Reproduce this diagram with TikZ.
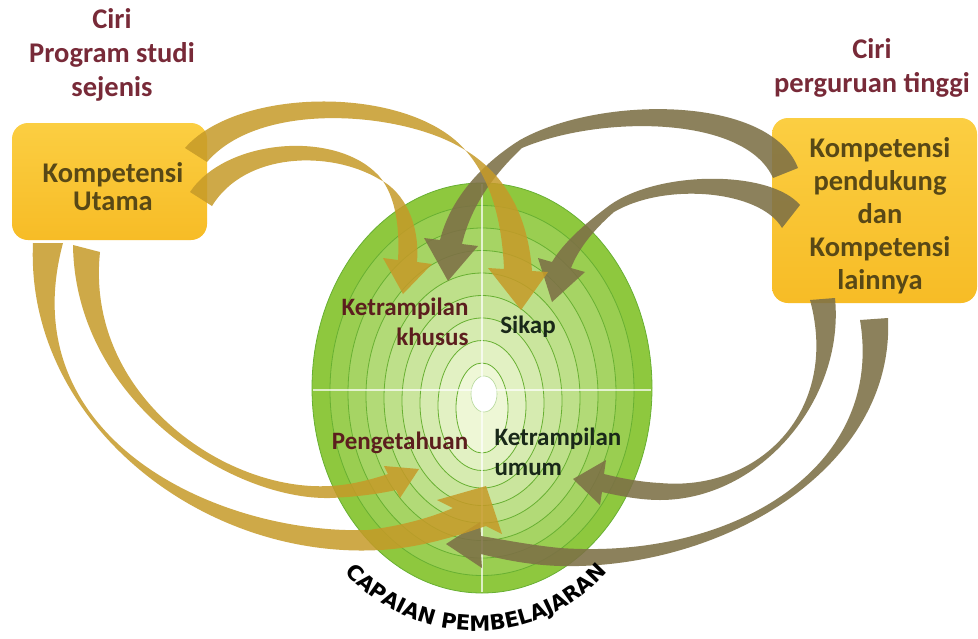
\documentclass[tikz,border=0pt]{standalone}
\usepackage{fontspec}
\setmainfont{Carlito}
\newfontfamily\capfont{DejaVu Sans}
\usetikzlibrary{decorations.text}

\definecolor{boxTop}{RGB}{251,206,66}
\definecolor{boxBot}{RGB}{247,188,38}
\definecolor{titleRed}{RGB}{120,42,56}
\definecolor{boxInk}{RGB}{88,72,22}
\definecolor{warmInk}{RGB}{92,30,30}
\definecolor{coolInk}{RGB}{25,40,25}
\definecolor{ringOut}{RGB}{142,200,62}
\definecolor{ringIn}{RGB}{242,249,220}
\definecolor{ringLine}{RGB}{104,176,50}
\definecolor{goldArrow}{RGB}{198,154,40}
\definecolor{oliveArrow}{RGB}{125,112,70}

\begin{document}
\begin{tikzpicture}[x=1pt,y=-1pt,
  compbox/.style={rounded corners=16pt, top color=boxTop, bottom color=boxBot, draw=none},
  titletext/.style={font=\bfseries\fontsize{28.5}{34}\selectfont, text=titleRed, align=center},
  boxtext/.style={font=\bfseries\fontsize{28.5}{33}\selectfont, text=boxInk, align=center},
  warmlabel/.style={font=\bfseries\fontsize{25}{30}\selectfont, text=warmInk},
  coollabel/.style={font=\bfseries\fontsize{25}{30}\selectfont, text=coolInk},
  goldarrow/.style={fill=goldArrow, fill opacity=0.85},
  olivearrow/.style={fill=oliveArrow, fill opacity=0.88}]

\useasboundingbox (0,0) rectangle (978,638);
\fill[white] (0,0) rectangle (978,638);

% ---- learning-outcome ellipse with rings ----
\foreach \k in {0,...,8}{
  \pgfmathtruncatemacro\p{100-12*\k}
  \pgfmathsetmacro\rx{170-18*\k}
  \pgfmathsetmacro\ry{205-20*\k}
  \pgfmathsetmacro\cy{388+2.5*\k}
  \filldraw[fill=ringOut!\p!ringIn, draw=ringLine, line width=0.8pt]
    (482,\cy) ellipse[x radius=\rx, y radius=\ry];
}
\filldraw[fill=white, draw=ringLine!50, line width=0.6pt] (484,394) ellipse[x radius=13, y radius=18];
\draw[white, opacity=0.7, line width=1.2pt] (482,184) -- (482,592);
\draw[white, opacity=0.7, line width=1.2pt] (313,390) -- (651,390);

% ---- competence boxes ----
\node[compbox, minimum width=195pt, minimum height=117pt] (boxL) at (109.5,181.5) {};
\node[compbox, minimum width=205pt, minimum height=185pt] (boxR) at (874.5,210.5) {};

% ---- arrows from the right box (olive) ----
\fill[olivearrow] (798,168) .. controls (770,95) and (600,95) .. (520,140)
  .. controls (480,165) and (450,200) .. (440,240)
  -- (424,238) -- (448,281) -- (478,246) -- (462,244)
  .. controls (470,210) and (490,178) .. (522,148)
  .. controls (600,115) and (745,115) .. (773,178) -- cycle;
\fill[olivearrow] (800,205) .. controls (770,170) and (660,170) .. (610,205)
  .. controls (590,220) and (565,240) .. (552,262)
  -- (538,258) -- (552,302) -- (585,272) -- (571,268)
  .. controls (580,245) and (598,226) .. (614,212)
  .. controls (665,182) and (760,190) .. (782,228) -- cycle;
\fill[olivearrow] (835,298) .. controls (845,400) and (760,500) .. (660,500)
  .. controls (640,500) and (620,496) .. (602,492)
  -- (600,505) -- (573,479) -- (606,460) -- (604,474)
  .. controls (620,478) and (640,482) .. (660,483)
  .. controls (760,492) and (840,410) .. (810,300) -- cycle;
\fill[olivearrow] (888,318) .. controls (895,470) and (720,570) .. (560,566)
  .. controls (530,565) and (505,560) .. (481,554)
  -- (482,568) -- (446,544) -- (480,522) -- (481,536)
  .. controls (505,540) and (530,545) .. (560,548)
  .. controls (730,560) and (885,470) .. (860,320) -- cycle;

% ---- arrows from the left box (gold) ----
\fill[goldarrow] (185,148) .. controls (235,90) and (390,85) .. (455,140)
  .. controls (490,170) and (502,220) .. (504,269)
  -- (488,268) -- (521,310) -- (548,272) -- (532,271)
  .. controls (528,215) and (505,172) .. (460,147)
  .. controls (400,112) and (260,100) .. (207,162) -- cycle;
\fill[goldarrow] (190,192) .. controls (225,140) and (330,130) .. (375,172)
  .. controls (395,190) and (400,225) .. (398,260)
  -- (383,258) -- (403,294) -- (432,264) -- (417,262)
  .. controls (420,225) and (405,192) .. (379,179)
  .. controls (330,150) and (245,152) .. (212,206) -- cycle;
\fill[goldarrow] (73,245) .. controls (75,400) and (230,500) .. (330,498)
  .. controls (355,497) and (378,494) .. (396,490)
  -- (400,498) -- (419,469) -- (384,466) -- (388,474)
  .. controls (370,480) and (350,485) .. (330,486)
  .. controls (225,492) and (85,395) .. (100,252) -- cycle;
\fill[goldarrow] (33,243) .. controls (25,420) and (200,560) .. (380,550)
  .. controls (420,548) and (460,535) .. (486,526)
  -- (502,534) -- (486,486) -- (437,500) -- (453,508)
  .. controls (430,518) and (400,526) .. (368,530)
  .. controls (220,535) and (10,440) .. (63,243) -- cycle;

% ---- texts ----
\node[titletext] (titleL) at (112,55) {Ciri\\Program studi\\sejenis};
\node[titletext] (titleR) at (872,68) {Ciri\\perguruan tinggi};
\node[boxtext, font=\bfseries\fontsize{28.5}{28}\selectfont] (textL) at (113,187) {Kompetensi\\Utama};
\node[boxtext] (textR) at (880,216) {Kompetensi\\pendukung\\dan\\Kompetensi\\lainnya};

\node[warmlabel, align=right, anchor=east] (khusus) at (472,322) {Ketrampilan\\khusus};
\node[coollabel] (sikap) at (528,327) {Sikap};
\node[warmlabel] (tahu) at (400,443) {Pengetahuan};
\node[coollabel, align=left, anchor=west] (umum) at (491,452) {Ketrampilan\\umum};

\coordinate (capL) at (324.4,543.5);
\coordinate (capR) at (627.6,543.5);
\path[decorate, decoration={text along path,
    text={|\capfont\bfseries\fontsize{21}{21}\selectfont|CAPAIAN PEMBELAJARAN},
    text align=center}]
  (capL) .. controls (391.8,660.1) and (560.2,660.1) .. (capR);
\end{tikzpicture}
\end{document}
